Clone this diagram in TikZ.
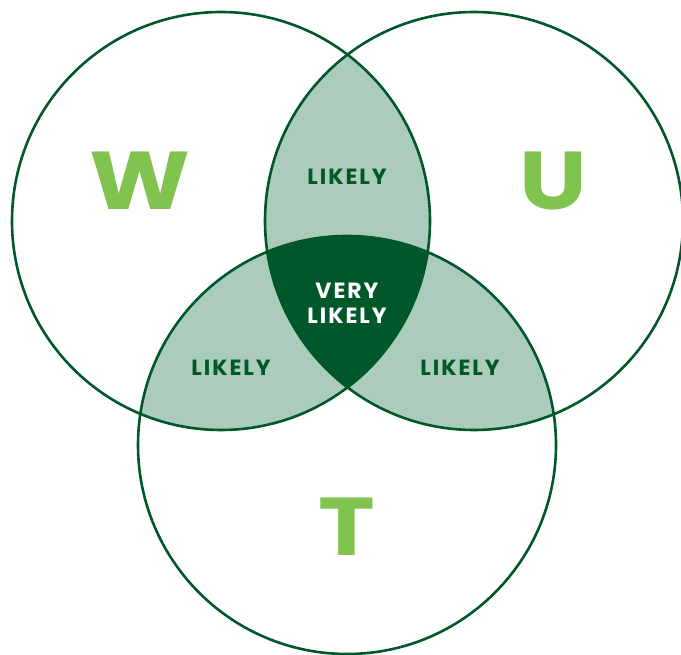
\documentclass[tikz,border=0pt]{standalone}
\usepackage{fontspec}
\setmainfont{Poppins}
\usetikzlibrary{positioning}

\definecolor{darkgreen}{HTML}{00572A}
\definecolor{paleg}{HTML}{ABCBBC}
\definecolor{leafg}{HTML}{80C34F}

\tikzset{
  ring/.style={draw=darkgreen,line width=2.6pt},
  zone/.style={font=\bfseries\fontsize{22}{24}\selectfont\addfontfeatures{LetterSpace=9},
    text=darkgreen,inner sep=0pt},
  core/.style={zone,text=white},
  letter/.style={font=\bfseries\fontsize{82}{82}\selectfont,text=leafg,xscale=1.17}
}
\newcommand{\rad}{209}

\begin{document}
\begin{tikzpicture}[x=1pt,y=-1pt]
  \useasboundingbox (0,0) rectangle (681,655);
  \coordinate (w) at (221,221);
  \coordinate (u) at (474,221);
  \coordinate (t) at (347,445);
  % overlaps
  \begin{scope}
    \clip (w) circle (\rad);
    \fill[paleg] (u) circle (\rad);
    \fill[paleg] (t) circle (\rad);
  \end{scope}
  \begin{scope}
    \clip (u) circle (\rad);
    \fill[paleg] (t) circle (\rad);
  \end{scope}
  \begin{scope}
    \clip (w) circle (\rad);
    \clip (u) circle (\rad);
    \fill[darkgreen] (t) circle (\rad);
  \end{scope}
  % rings
  \draw[ring] (w) circle (\rad);
  \draw[ring] (u) circle (\rad);
  \draw[ring] (t) circle (\rad);
  % labels
  \node[letter] (lw) at (140,181) {W};
  \node[letter] (lu) at (553,181) {U};
  \node[letter] (lt) at (347,527) {T};
  \node[zone] (wu) at (347,177) {LIKELY};
  \node[zone] (wt) at (231,368) {LIKELY};
  \node[zone] (ut) at (460,368) {LIKELY};
  \node[core] (very) at (347,291) {VERY};
  \node[core] (sure) at (347,316) {LIKELY};
\end{tikzpicture}
\end{document}
